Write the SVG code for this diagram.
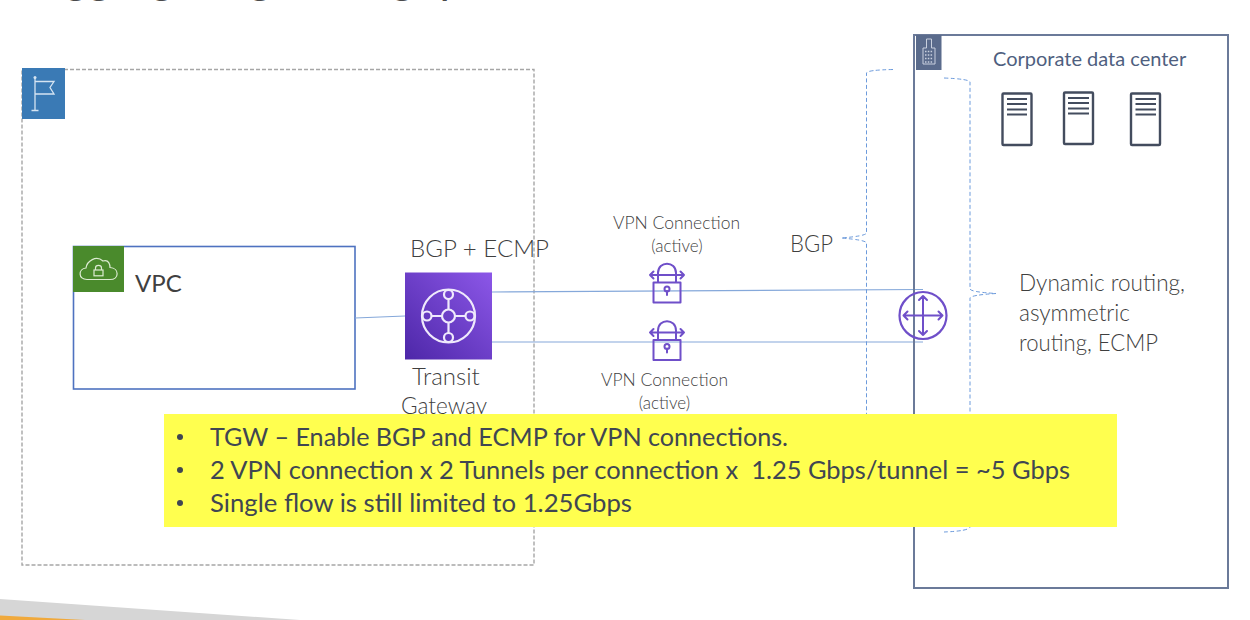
<svg xmlns="http://www.w3.org/2000/svg" width="1250" height="620" viewBox="0 0 1250 620">
<style>
text{font-family:"Lato","Carlito","Liberation Sans",sans-serif;fill:#404040}
.lt{font-weight:300;fill:#3f3f3f}
.body{font-size:25.300px;fill:#404652}
.p{fill:none;stroke:#6f4fc9;stroke-width:2;stroke-linecap:round;stroke-linejoin:round}
.srv{fill:#fff;stroke:#434c5e;stroke-width:2.4}
.srvl{stroke:#434c5e;stroke-width:2}
.link{fill:none;stroke:#85a8da;stroke-width:1.2}
.brace{fill:none;stroke:#6d9bdc;stroke-width:1;stroke-dasharray:4 2.5}
</style>
<defs>
<linearGradient id="tg" x1="0" y1="1" x2="1" y2="0"><stop offset="0" stop-color="#4d27a8"/><stop offset="1" stop-color="#8c57e8"/></linearGradient>
</defs>
<rect width="1250" height="620" fill="#fff"/>
<g id="decor">
<polygon points="0,599 300,620 0,620" fill="#d6d6d6"/>
<polygon points="0,615.500 85,620 0,620" fill="#f0a93c"/>
</g>
<text id="title" x="34" y="-7" font-size="45" style="font-weight:400;fill:#4a4a4a">Aggregating throughput</text>
<g id="region">
<rect x="22" y="69.500" width="512" height="495.500" fill="none" stroke="#a6a6a6" stroke-width="1.400" stroke-dasharray="4 2"/>
<rect x="22" y="68" width="43" height="51" fill="#3a7ab5"/>
<path d="M35 78V110M31.500 110.500H38.500M35 81.500H54L50 87.500 54 94H35" fill="none" stroke="#d5e4f2" stroke-width="1.300"/>
<circle cx="35" cy="77.500" r="1.500" fill="#d5e4f2"/>
</g>
<g id="vpc">
<rect x="73.500" y="246.500" width="281.500" height="142.500" fill="#fff" stroke="#4e72c0" stroke-width="1.600"/>
<rect x="73" y="246" width="51" height="46" fill="#4a8a2c"/>
<path d="M87 279.500C78 279.500 78 269 86 268C87 261 96 255 103 261C109 259 110 265 110 267.500C119.500 268 119.500 279.500 110 279.500Z" fill="none" stroke="#dcebd2" stroke-width="1.200"/>
<rect x="94" y="270" width="9" height="5.800" fill="none" stroke="#dcebd2" stroke-width="1.200"/>
<path d="M95.500 270V268C95.500 264.500 101.500 264.500 101.500 268V270" fill="none" stroke="#dcebd2" stroke-width="1.200"/>
<text x="135" y="292" font-size="24">VPC</text>
</g>
<g id="connectors">
<path class="link" d="M355 318L405 316"/>
<path class="link" d="M492 292L923 289.500"/>
<path class="link" d="M492 342H923"/>
<path class="brace" d="M893 69.500Q867 70 866.500 73V233Q866 236 841 238Q866 240 866.500 243V414"/>
<path class="brace" d="M944 78Q969 79 970 82V289Q971 292 996 293.500Q971 295 970 298V527Q969 531 944 532"/>
</g>
<g id="data-center">
<rect x="914" y="35" width="314" height="553" fill="none" stroke="#6b7a99" stroke-width="2"/>
<rect x="916" y="35" width="25.500" height="35" fill="#5a6b8c"/>
<path d="M923 64V48H926.500V39H931.500V48H935V64Z" fill="none" stroke="#c8d0de" stroke-width="1"/>
<path d="M925 51.500H933M925 55H933M925 58.500H933M925 62H933" stroke="#c8d0de" stroke-width="1.500" stroke-dasharray="1.500 1.300"/>
<text x="993" y="66" font-size="20" style="fill:#4f5f7f">Corporate data center</text>
</g>
<g id="server-1">
<rect class="srv" x="1002.500" y="93.500" width="29" height="51.500" rx="1"/>
<path class="srvl" d="M1007 99H1027M1007 104H1027M1007 109.500H1027M1007 114.500H1027"/>
</g>
<g id="server-2">
<rect class="srv" x="1064" y="92.500" width="29" height="51.500" rx="1"/>
<path class="srvl" d="M1068 98H1089M1068 103H1089M1068 108.500H1089M1068 113.500H1089"/>
</g>
<g id="server-3">
<rect class="srv" x="1131" y="93.500" width="29" height="51.500" rx="1"/>
<path class="srvl" d="M1135.500 99H1156M1135.500 104H1156M1135.500 109.500H1156M1135.500 114.500H1156"/>
</g>
<g id="transit-gateway">
<rect x="405" y="272.500" width="87" height="87" fill="url(#tg)"/>
<g fill="none" stroke="#efe9fc" stroke-width="2.200">
<circle cx="448.500" cy="316" r="26.500"/>
<circle cx="448.500" cy="316" r="6.500"/>
<circle cx="448.500" cy="294.500" r="4.500"/>
<circle cx="448.500" cy="337.500" r="4.500"/>
<circle cx="427" cy="316" r="4.500"/>
<circle cx="470" cy="316" r="4.500"/>
<path d="M448.500 299V309.500M448.500 322.500V333M431.500 316H442M455 316H465.500"/>
</g>
<text x="410" y="257" font-size="24" class="lt" textLength="139" lengthAdjust="spacingAndGlyphs">BGP + ECMP</text>
<text x="412" y="385" font-size="24" class="lt">Transit</text>
<text x="401" y="414" font-size="24" class="lt" textLength="86" lengthAdjust="spacingAndGlyphs">Gateway</text>
</g>
<g id="vpn-1">
<path class="p" d="M653.500 282.500H680.500V302.500H653.500ZM658 282.500V275M676 282.500V275M658 275V273C658 260.500 676 260.500 676 273V275M650 275H684M653.500 271.500L650 275 653.500 278.500M680.500 271.500L684 275 680.500 278.500M667 295V291"/>
<circle class="p" cx="667" cy="289" r="2.500"/>
<text x="613" y="229" font-size="17" class="lt" textLength="127" lengthAdjust="spacingAndGlyphs">VPN Connection</text>
<text x="677" y="252" font-size="17" class="lt" text-anchor="middle">(active)</text>
</g>
<g id="vpn-2">
<path class="p" d="M653.500 340H680.500V360H653.500ZM658 340V332.500M676 340V332.500M658 332.500V330.500C658 318 676 318 676 330.500V332.500M650 332.500H684M653.500 329L650 332.500 653.500 336M680.500 329L684 332.500 680.500 336M667 352.500V348.500"/>
<circle class="p" cx="667" cy="346.500" r="2.500"/>
<text x="601" y="386" font-size="17" class="lt" textLength="127" lengthAdjust="spacingAndGlyphs">VPN Connection</text>
<text x="664.500" y="409" font-size="17" class="lt" text-anchor="middle">(active)</text>
</g>
<g id="router">
<circle class="p" cx="923" cy="315.500" r="23.500" style="stroke-width:2.200"/>
<path class="p" d="M903.500 315.500H942.500M923 296V335M907.500 311.500L903.500 315.500 907.500 319.500M938.500 311.500L942.500 315.500 938.500 319.500M919 300L923 296 927 300M919 331L923 335 927 331"/>
</g>
<text id="bgp-label" x="790" y="252" font-size="23" class="lt" textLength="43" lengthAdjust="spacingAndGlyphs">BGP</text>
<g id="routing-label" font-size="23.500">
<text class="lt" x="1019" y="291" textLength="166" lengthAdjust="spacingAndGlyphs">Dynamic routing,</text>
<text class="lt" x="1019" y="321" textLength="111" lengthAdjust="spacingAndGlyphs">asymmetric</text>
<text class="lt" x="1019" y="351" textLength="139" lengthAdjust="spacingAndGlyphs">routing, ECMP</text>
</g>
<g id="note">
<rect x="164" y="414" width="953" height="113" fill="#ffff4f"/>
<circle cx="180" cy="437" r="3" fill="#404652"/>
<circle cx="180" cy="470" r="3" fill="#404652"/>
<circle cx="180" cy="503" r="3" fill="#404652"/>
<text class="body" x="210" y="446" textLength="578" lengthAdjust="spacingAndGlyphs">TGW – Enable BGP and ECMP for VPN connections.</text>
<text class="body" x="210" y="479" xml:space="preserve" textLength="860" lengthAdjust="spacingAndGlyphs">2 VPN connection x 2 Tunnels per connection x  1.25 Gbps/tunnel = ~5 Gbps</text>
<text class="body" x="210" y="512" textLength="422" lengthAdjust="spacingAndGlyphs">Single flow is still limited to 1.25Gbps</text>
</g>
</svg>
